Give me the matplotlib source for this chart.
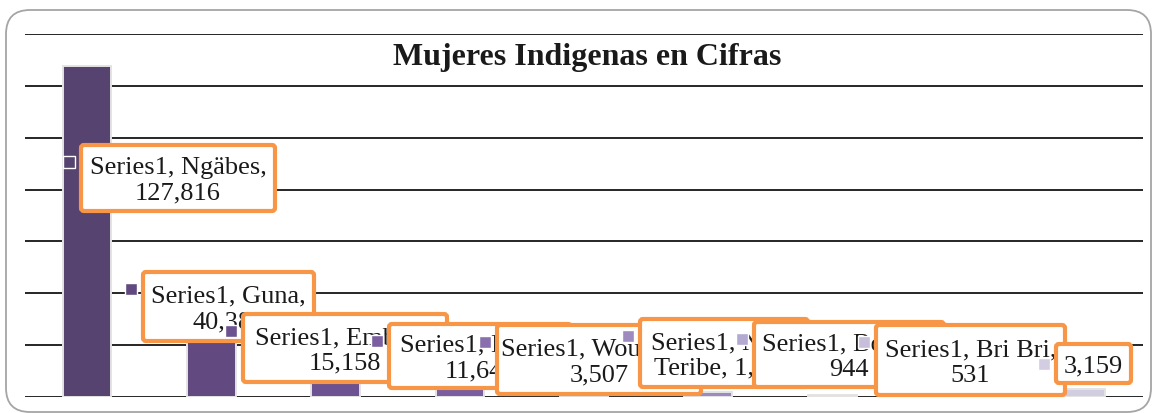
import matplotlib
matplotlib.use('Agg')
import matplotlib.pyplot as plt
import matplotlib.transforms as mtransforms
from matplotlib.patches import FancyBboxPatch, Rectangle
import numpy as np

# ── Data ─────────────────────────────────────────────────────────────────────
series_name = 'Series1'
categories = ['Ngäbes', 'Guna', 'Emberá', 'Buglé', 'Wounaan',
              'Naso Teribe', 'Bokota', 'Bri Bri', 'Otros']
mujeres = [127816, 40383, 15158, 11646, 3507, 1966, 944, 531, 3159]
bar_colors = ['#56436F', '#624A80', '#6C5290', '#7A5E9F', '#8870AE',
              '#9D8BC0', '#B4A9D0', '#C6BEDB', '#D3CDE1']

# label text, one per bar (the last one shows the value only)
label_lines = [
    '{}, Ngäbes,\n{:,}', '{}, Guna,\n{:,}', '{}, Emberá,\n{:,}',
    '{}, Buglé,\n{:,}', '{}, Wounaan,\n{:,}', '{}, Naso\nTeribe, {:,}',
    '{}, Bokota,\n{:,}', '{}, Bri Bri,\n{:,}', '{:,}',
]

# label boxes in pixels: left, top, width, height
box_left = [79, 141, 241, 387, 495, 638, 752, 874, 1054]
box_top = [143, 270, 312, 322, 323, 317, 320, 323, 342]
box_w = [198, 175, 208, 186, 208, 172, 194, 193, 79]
box_h = [70, 73, 72, 68, 73, 72, 69, 74, 43]

W, H = 1154, 413
ORANGE = '#F79646'

fig = plt.figure(figsize=(W / 100, H / 100), dpi=100)
fig.patch.set_facecolor('white')

# outer rounded frame
ident = mtransforms.IdentityTransform()
frame = FancyBboxPatch((6, H - 412), 1145, 402,
                       boxstyle='round,pad=0,rounding_size=24',
                       transform=ident, fc='none', ec='#A5A5A5', lw=1.3,
                       zorder=0)
fig.patches.append(frame)

ax = fig.add_axes([25 / W, 16 / H, 1118 / W, 363 / H])
ax.set_facecolor('none')

x = np.arange(len(categories))
ax.bar(x, mujeres, width=0.39, color=bar_colors,
       edgecolor='#E4E4E4', linewidth=1.4, zorder=3)

ax.set_xlim(-0.5, len(categories) - 0.5)
ax.set_ylim(0, 140000)
ax.set_yticks(np.arange(0, 140001, 20000))
ax.yaxis.grid(True, color='#262626', lw=1.4, zorder=0)
ax.set_axisbelow(True)
ax.tick_params(left=False, bottom=False, labelleft=False, labelbottom=False)
for sp in ax.spines.values():
    sp.set_visible(False)

fig.text(587 / W, 1 - 57 / H, 'Mujeres Indigenas en Cifras',
         ha='center', va='center', fontsize=23, fontweight='bold',
         family='Liberation Serif', color='#1A1A1A', zorder=5)

# data labels: legend key + orange framed box, later ones drawn on top
for i, (cat, val) in enumerate(zip(categories, mujeres)):
    z = 10 + 2 * i
    left, top, bw, bh = box_left[i], box_top[i], box_w[i], box_h[i]
    if i < len(categories) - 1:
        txt = label_lines[i].format(series_name, val)
        key_y = top + 19
    else:
        txt = label_lines[i].format(val)
        key_y = top + bh / 2
    key = Rectangle((left - 16, H - key_y - 6), 12, 12, transform=ident,
                    fc=bar_colors[i], ec='white', lw=1.0, zorder=z)
    fig.patches.append(key)
    box = FancyBboxPatch((left + 2, H - top - bh + 2), bw - 4, bh - 4,
                         boxstyle='round,pad=0,rounding_size=3',
                         transform=ident, fc='white', ec=ORANGE, lw=3.0,
                         zorder=z + 1)
    fig.patches.append(box)
    fig.text((left + bw / 2) / W, 1 - (top + bh / 2 + 3) / H, txt,
             ha='center', va='center', fontsize=19, linespacing=1.22,
             family='Liberation Serif', color='#1A1A1A', zorder=z + 1.5)

fig.savefig('out.png', dpi=100)
